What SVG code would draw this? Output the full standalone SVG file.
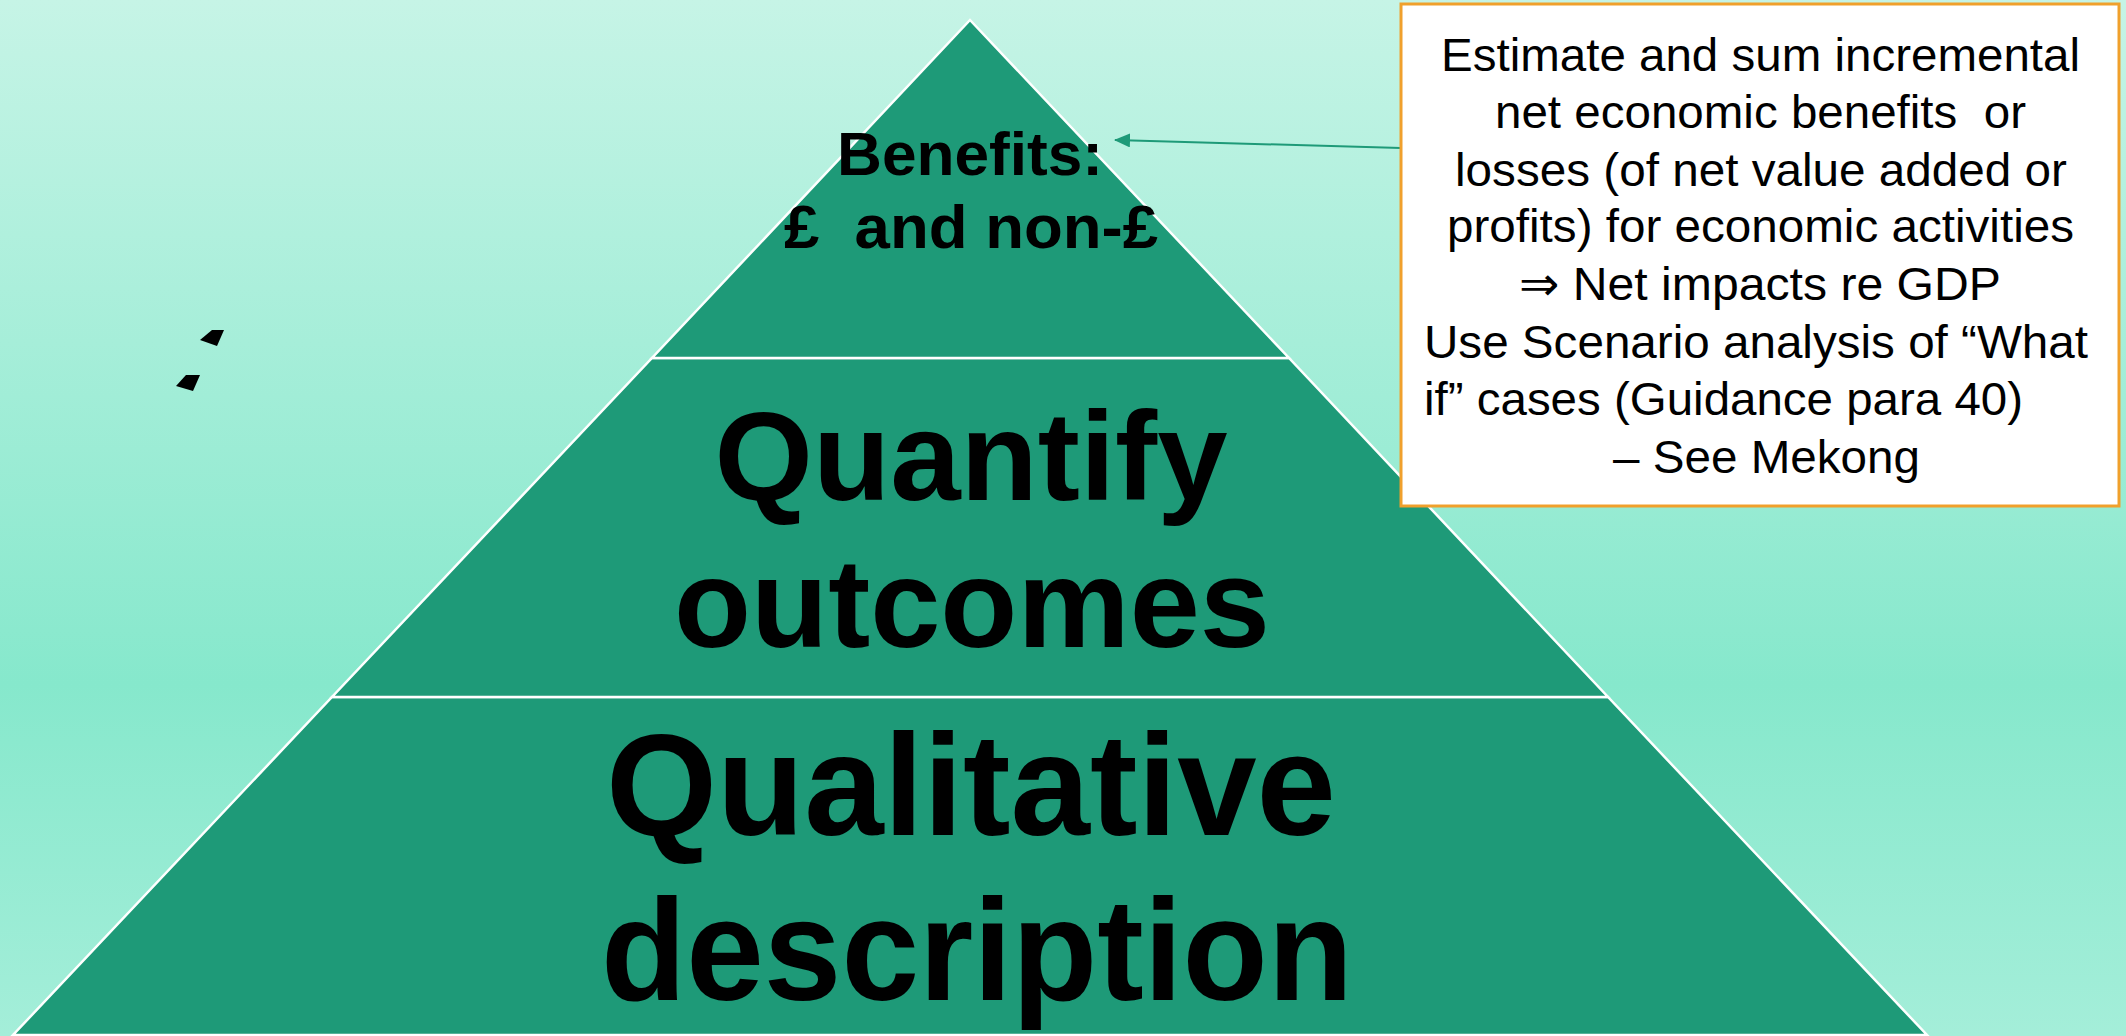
<svg xmlns="http://www.w3.org/2000/svg" width="2126" height="1036" viewBox="0 0 2126 1036">
<defs>
<linearGradient id="bg" x1="0" y1="0" x2="0" y2="1">
<stop offset="0" stop-color="#c6f4e6"/>
<stop offset="0.66" stop-color="#86e8cc"/>
<stop offset="1" stop-color="#a4eed9"/>
</linearGradient>
<marker id="arr" markerWidth="16" markerHeight="14" refX="15" refY="7" orient="auto" markerUnits="userSpaceOnUse">
<path d="M0,0 L16,7 L0,14 Z" fill="#1e9a78"/>
</marker>
<style>
.layer{fill:#1e9a78;stroke:#ffffff;stroke-width:2.5;stroke-linejoin:miter}
.big{font-family:"Liberation Sans",Arial,sans-serif;font-weight:bold;fill:#000}
.note{font-family:"Liberation Sans",Arial,"DejaVu Sans",sans-serif;font-size:47px;fill:#000}
</style>
</defs>
<rect x="0" y="0" width="2126" height="1036" fill="url(#bg)"/>

<g id="marks">
<polygon points="200,340 212,330 224,330 217,346" fill="#000"/>
<polygon points="176,386 186,375 200,375 193,391" fill="#000"/>
</g>

<g id="layer-bottom">
<polygon class="layer" points="332,697 1608,697 1927,1035 13,1035"/>
<text class="big" x="971" y="835" font-size="145" text-anchor="middle" textLength="730" lengthAdjust="spacingAndGlyphs">Qualitative</text>
<text class="big" x="977" y="1000" font-size="145" text-anchor="middle" textLength="752" lengthAdjust="spacingAndGlyphs">description</text>
</g>

<g id="layer-middle">
<polygon class="layer" points="652,358 1289,358 1608,697 332,697"/>
<text class="big" x="971" y="500" font-size="127" text-anchor="middle" textLength="513" lengthAdjust="spacingAndGlyphs">Quantify</text>
<text class="big" x="972" y="647" font-size="127" text-anchor="middle" textLength="596" lengthAdjust="spacingAndGlyphs">outcomes</text>
</g>

<g id="layer-top">
<polygon class="layer" points="970,20 1289,358 652,358"/>
<text class="big" x="970" y="175" font-size="62" text-anchor="middle" textLength="266" lengthAdjust="spacingAndGlyphs">Benefits:</text>
<text class="big" x="971" y="248" font-size="62" text-anchor="middle" xml:space="preserve" textLength="374" lengthAdjust="spacingAndGlyphs">£  and non-£</text>
</g>

<g id="connectors">
<line x1="1401" y1="148" x2="1115" y2="140" stroke="#1e9a78" stroke-width="2" marker-end="url(#arr)"/>
</g>

<g id="note-box">
<rect x="1401" y="4" width="718" height="502" fill="#ffffff" stroke="#f0a02c" stroke-width="3"/>
<text class="note" x="1441" y="71" textLength="639" lengthAdjust="spacingAndGlyphs">Estimate and sum incremental</text>
<text class="note" x="1495" y="128" xml:space="preserve" textLength="531" lengthAdjust="spacingAndGlyphs">net economic benefits  or</text>
<text class="note" x="1455" y="186" textLength="612" lengthAdjust="spacingAndGlyphs">losses (of net value added or</text>
<text class="note" x="1447" y="242" textLength="627" lengthAdjust="spacingAndGlyphs">profits) for economic activities</text>
<text class="note" x="1519" y="300" textLength="482" lengthAdjust="spacingAndGlyphs">⇒ Net impacts re GDP</text>
<text class="note" x="1424" y="358" textLength="664" lengthAdjust="spacingAndGlyphs">Use Scenario analysis of “What</text>
<text class="note" x="1424" y="415" textLength="599" lengthAdjust="spacingAndGlyphs">if” cases (Guidance para 40)</text>
<text class="note" x="1613" y="473" textLength="307" lengthAdjust="spacingAndGlyphs">– See Mekong</text>
</g>
</svg>
